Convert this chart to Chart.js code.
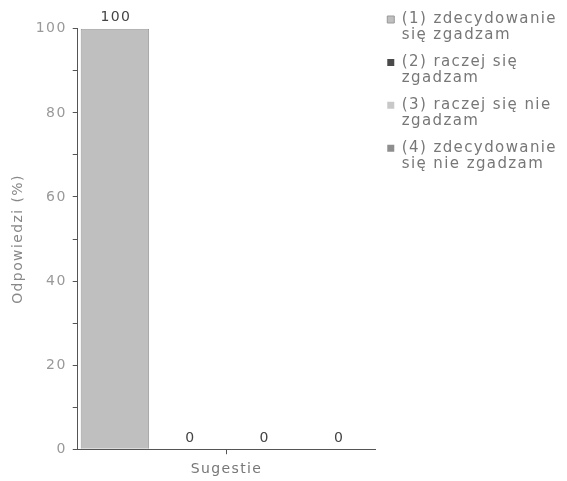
<!DOCTYPE html>
<html>
<head>
<meta charset="utf-8">
<script src="https://cdn.jsdelivr.net/npm/chart.js@4"></script>
<style>
  html, body { margin: 0; padding: 0; background: #fff; }
  #wrap { width: 567px; height: 481px; }
</style>
</head>
<body>
<div id="wrap"><canvas id="myChart"></canvas></div>
<script>
var categories = ["Sugestie"];
var seriesNames = [
  ["(1) zdecydowanie", "się zgadzam"],
  ["(2) raczej się", "zgadzam"],
  ["(3) raczej się nie", "zgadzam"],
  ["(4) zdecydowanie", "się nie zgadzam"]
];
var seriesValues = [[100], [0], [0], [0]];
var barColors = ["#bfbfbf", "#4a4a4a", "#c8c8c8", "#8e8e8e"];
var yTicks = [0, 20, 40, 60, 80, 100];

var font = "'DejaVu Sans', Verdana, sans-serif";

// the old chart font is set wide, so space the letters a bit
var wideText = {
  id: "wideText",
  beforeUpdate: function(chart) { chart.ctx.letterSpacing = "1.4px"; },
  beforeDraw: function(chart) { chart.ctx.letterSpacing = "1.4px"; }
};

// value labels above bars
var valueLabels = {
  id: "valueLabels",
  afterDatasetsDraw: function(chart) {
    var ctx = chart.ctx;
    ctx.save();
    ctx.font = "14px " + font;
    ctx.fillStyle = "#444";
    ctx.textAlign = "center";
    ctx.textBaseline = "bottom";
    chart.data.datasets.forEach(function(ds, i) {
      chart.getDatasetMeta(i).data.forEach(function(bar, j) {
        ctx.fillText(String(ds.data[j]), bar.x + 1, bar.y - 4);
      });
    });
    ctx.restore();
  }
};

var datasets = seriesNames.map(function(name, i) {
  return {
    label: name,
    data: seriesValues[i],
    backgroundColor: barColors[i],
    borderColor: "#999",
    borderWidth: seriesValues[i][0] > 0 ? 1 : 0,
    barPercentage: 0.92,
    categoryPercentage: 1.0
  };
});

new Chart("myChart", {
  type: "bar",
  data: {
    labels: categories,
    datasets: datasets
  },
  plugins: [wideText, valueLabels],
  options: {
    responsive: true,
    maintainAspectRatio: false,
    animation: false,
    layout: { padding: { top: 0, left: 5, right: 0, bottom: 3 } },
    plugins: {
      tooltip: { enabled: false },
      title: {
        display: true,
        text: "",
        fullSize: false,
        padding: { top: 6, bottom: 6 },
        font: { family: font, size: 14 }
      },
      legend: {
        position: "right",
        align: "start",
        maxWidth: 220,
        labels: {
          boxWidth: 7,
          boxHeight: 7,
          padding: 12,
          color: "#777",
          font: { family: font, size: 15, lineHeight: 1.03 }
        }
      }
    },
    scales: {
      x: {
        grid: { display: true, drawOnChartArea: false, offset: false, tickLength: 5, color: "#555" },
        border: { color: "#555", width: 1 },
        ticks: { display: false },
        title: { display: true, text: categories[0], color: "#777", font: { family: font, size: 14 }, padding: { top: 7, bottom: 0 } }
      },
      y: {
        min: 0,
        max: 100,
        grid: { display: true, drawOnChartArea: false, tickLength: 5, color: "#555" },
        border: { color: "#555", width: 1 },
        ticks: {
          stepSize: 10,
          color: "#999",
          padding: 6,
          font: { family: font, size: 14 },
          callback: function(v) { return yTicks.indexOf(v) >= 0 ? v : ""; }
        },
        title: { display: true, text: "Odpowiedzi (%)", color: "#888", font: { family: font, size: 14 }, padding: { top: 5, bottom: 3 } }
      }
    }
  }
});
</script>
</body>
</html>
